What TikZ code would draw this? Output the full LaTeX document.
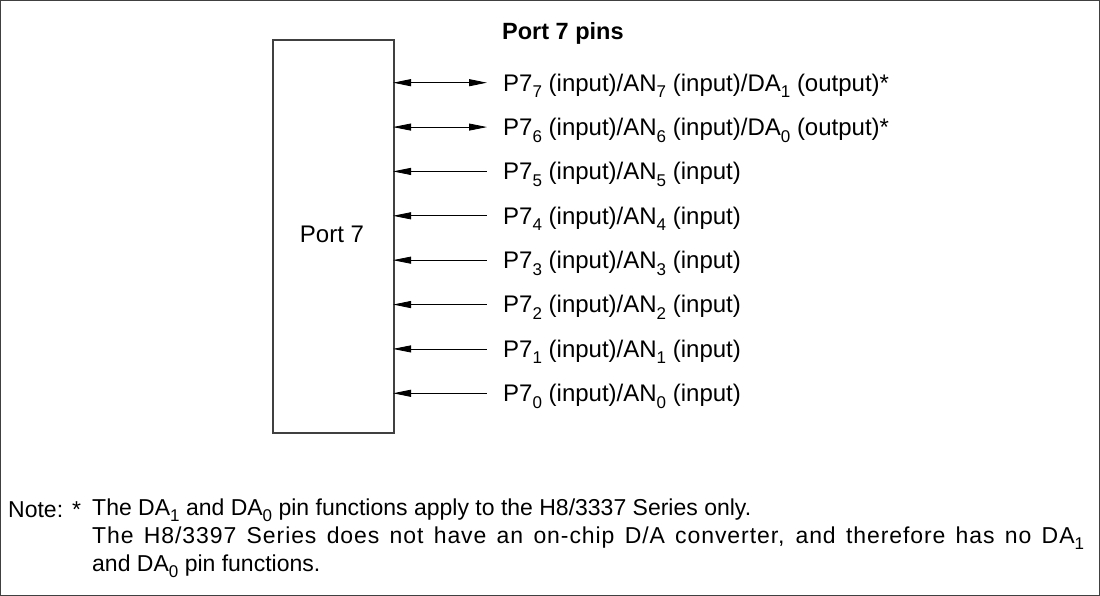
\documentclass[tikz,border=0pt]{standalone}
\usepackage{fontspec}
\setmainfont{Liberation Sans}
\usetikzlibrary{arrows.meta}
\newcommand{\sbs}[1]{\raisebox{-0.28em}{\fontsize{17}{17}\selectfont #1}}
\begin{document}
\begin{tikzpicture}[x=1pt,y=-1pt,
  frame/.style={draw=black!75,line width=1.6pt},
  outer/.style={draw=black!75,line width=1.2pt},
  conn/.style={draw=black,line width=0.8pt},
  txt/.style={anchor=west,inner sep=0pt,font=\fontsize{23}{26}\selectfont},
  pintxt/.style={anchor=west,inner sep=0pt,font=\fontsize{24}{27}\selectfont}]
\useasboundingbox (0,0) rectangle (1100,596);
\draw[outer] (0.6,0.6) rectangle (1099.4,595.4);
\node[frame,minimum width=121pt,minimum height=393pt,inner sep=0pt,anchor=north west] (port) at (272,39) {};
\node[pintxt,anchor=center] (portlbl) at (332,234) {Port 7};
\node[pintxt,font=\fontsize{23.5}{26}\selectfont\bfseries] (title) at (502,33) {Port 7 pins};
\foreach \n/\t/\bi in {
 7/{P7\sbs{7} (input)/AN\sbs{7} (input)/DA\sbs{1} (output)*}/1,
 6/{P7\sbs{6} (input)/AN\sbs{6} (input)/DA\sbs{0} (output)*}/1,
 5/{P7\sbs{5} (input)/AN\sbs{5} (input)}/0,
 4/{P7\sbs{4} (input)/AN\sbs{4} (input)}/0,
 3/{P7\sbs{3} (input)/AN\sbs{3} (input)}/0,
 2/{P7\sbs{2} (input)/AN\sbs{2} (input)}/0,
 1/{P7\sbs{1} (input)/AN\sbs{1} (input)}/0,
 0/{P7\sbs{0} (input)/AN\sbs{0} (input)}/0}{
  \pgfmathsetmacro{\yy}{82.7+44.37*(7-\n)}
  \node[pintxt] (p\n) at (503,\yy+3) {\t};
  \coordinate (e\n) at (393,\yy);
  \coordinate (s\n) at (487,\yy);
  \ifnum\bi=1
    \draw[conn,{Triangle[length=18pt,width=7pt]}-{Triangle[length=18pt,width=7pt]}] (e\n) -- (s\n);
  \else
    \draw[conn,{Triangle[length=18pt,width=7pt]}-] (e\n) -- (s\n);
  \fi
}
\node[txt] (note) at (8,510) {Note:};
\node[txt] (star) at (72,510) {*};
\node[txt] (n1) at (92,510) {The DA\sbs{1} and DA\sbs{0} pin functions apply to the H8/3337 Series only.};
\node[txt] (n2) at (92,538) {\addfontfeature{LetterSpace=4}\makebox[992pt][s]{The H8/3397 Series does not have an on-chip D/A converter, and therefore has no DA\sbs{1}}};
\node[txt] (n3) at (92,566) {and DA\sbs{0} pin functions.};
\end{tikzpicture}
\end{document}
